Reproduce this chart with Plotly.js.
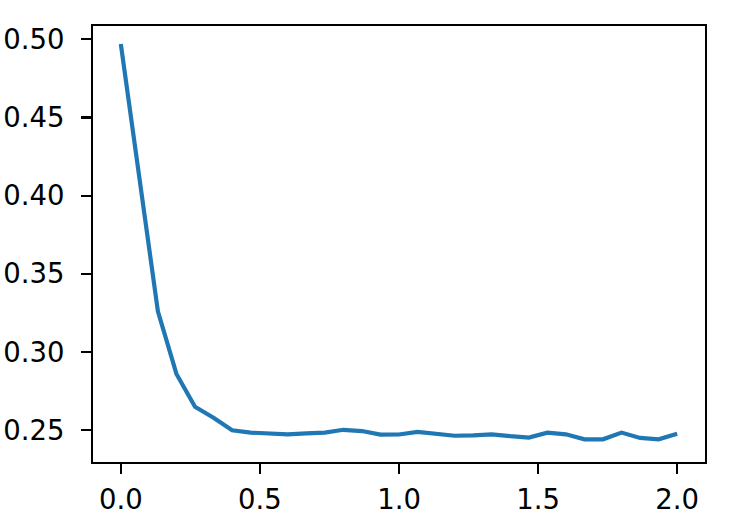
<!DOCTYPE html>
<html>
<head>
<meta charset="utf-8">
<script src="https://cdn.plot.ly/plotly-3.0.1.min.js"></script>
<style>
  html, body { margin: 0; padding: 0; background: #fff; }
  #chart { width: 747px; height: 516px; }
</style>
</head>
<body>
<div id="chart"></div>
<script>
// x values: 31 evenly spaced samples from 0 to 2
const xValues = [0, 0.0667, 0.1333, 0.2, 0.2667, 0.3333, 0.4, 0.4667, 0.5333, 0.6,
  0.6667, 0.7333, 0.8, 0.8667, 0.9333, 1.0, 1.0667, 1.1333, 1.2, 1.2667,
  1.3333, 1.4, 1.4667, 1.5333, 1.6, 1.6667, 1.7333, 1.8, 1.8667, 1.9333, 2.0];
const yValues = [0.497, 0.413, 0.326, 0.286, 0.265, 0.258, 0.250, 0.2485, 0.248, 0.2474,
  0.248, 0.2485, 0.2503, 0.2495, 0.2472, 0.2473, 0.249, 0.248, 0.2465, 0.2467,
  0.2474, 0.2462, 0.2453, 0.2485, 0.2474, 0.2442, 0.2442, 0.2485, 0.2451, 0.2442, 0.2478];
const xTicks = [0, 0.5, 1.0, 1.5, 2.0];
const yTicks = [0.25, 0.30, 0.35, 0.40, 0.45, 0.50];

const trace = {
  x: xValues,
  y: yValues,
  type: 'scatter',
  mode: 'lines',
  line: { color: '#1f77b4', width: 4.2 },
  hoverinfo: 'skip'
};

const axisCommon = {
  showline: true,
  mirror: true,
  linecolor: '#000',
  linewidth: 2.2,
  showgrid: false,
  zeroline: false,
  ticks: 'outside',
  ticklen: 9.7,
  tickwidth: 2.2,
  tickcolor: '#000',
  tickfont: { family: 'DejaVu Sans', size: 27.5, color: '#000' }
};

const layout = {
  width: 747,
  height: 516,
  margin: { l: 93, r: 42, t: 26, b: 54, pad: 0 },
  paper_bgcolor: '#fff',
  plot_bgcolor: '#fff',
  showlegend: false,
  xaxis: Object.assign({}, axisCommon, {
    range: [-0.1, 2.1],
    tickmode: 'array',
    tickvals: xTicks,
    ticktext: xTicks.map(v => v.toFixed(1)),
    ticklabelstandoff: 2
  }),
  yaxis: Object.assign({}, axisCommon, {
    range: [0.2297, 0.5085],
    tickmode: 'array',
    tickvals: yTicks,
    ticktext: yTicks.map(v => v.toFixed(2)),
    ticklabelstandoff: 11
  })
};

Plotly.newPlot('chart', [trace], layout, { staticPlot: true, displayModeBar: false });
</script>
</body>
</html>
